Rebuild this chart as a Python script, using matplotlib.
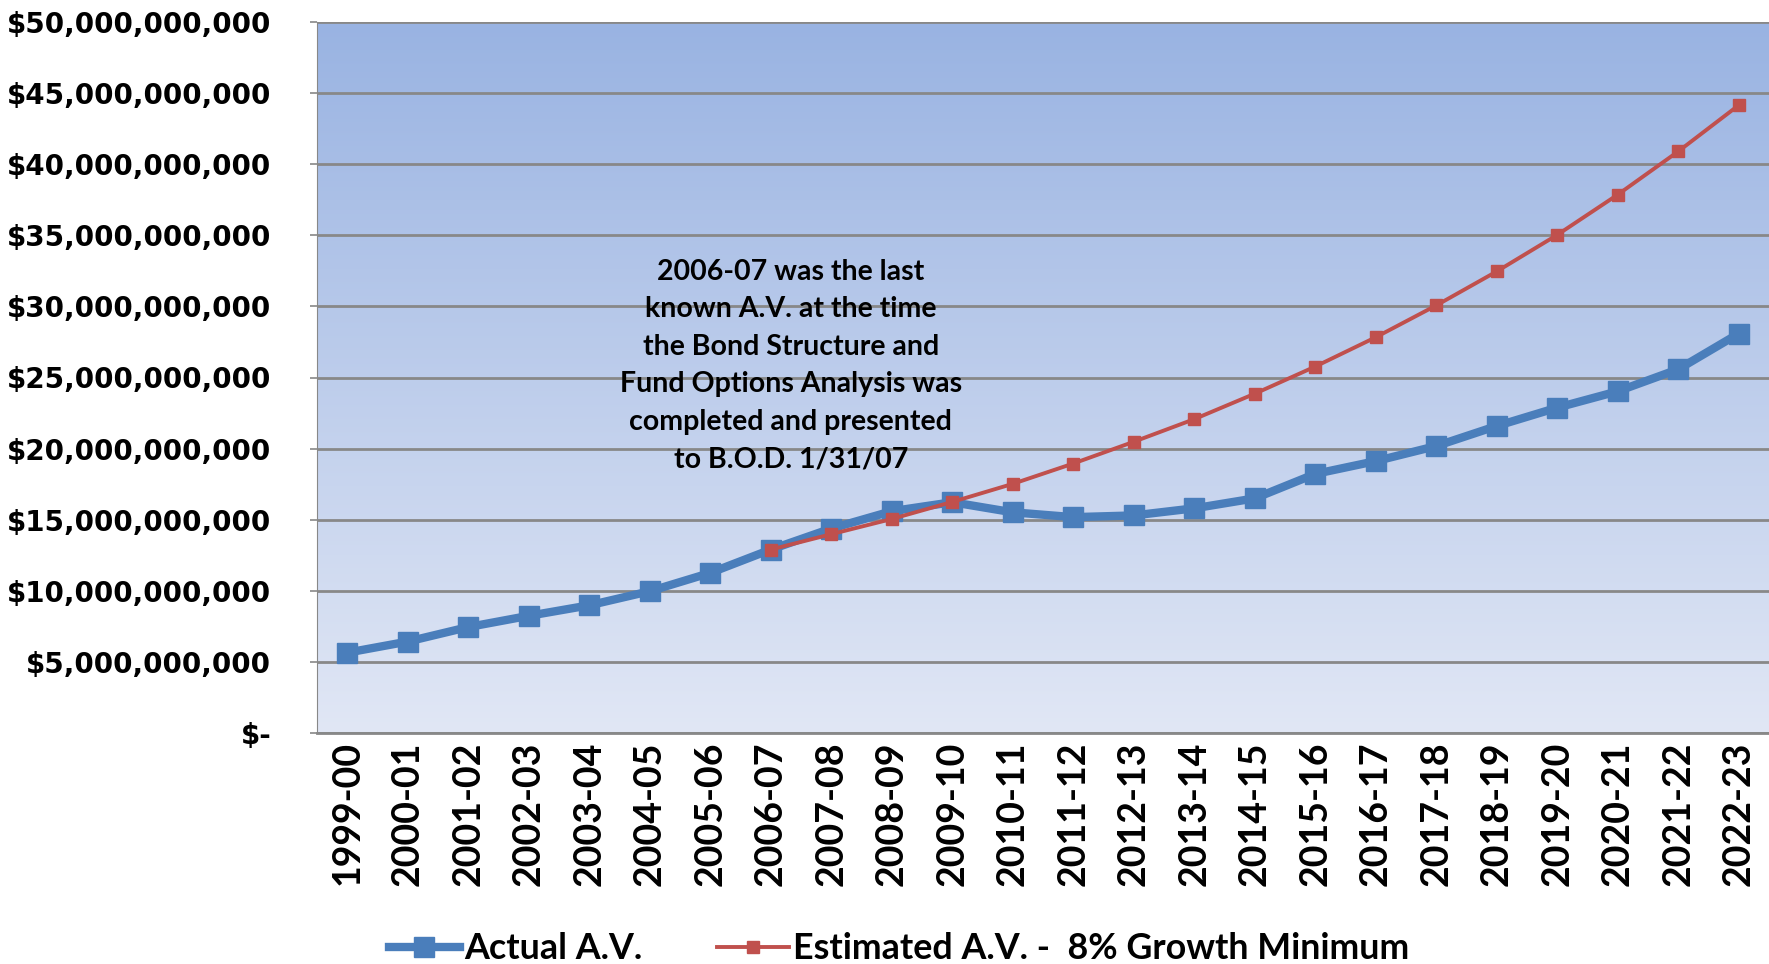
import matplotlib
matplotlib.use("Agg")
import matplotlib.pyplot as plt
import numpy as np
from matplotlib.ticker import FuncFormatter, MultipleLocator
from matplotlib.colors import LinearSegmentedColormap

years = ["1999-00", "2000-01", "2001-02", "2002-03", "2003-04", "2004-05", "2005-06",
         "2006-07", "2007-08", "2008-09", "2009-10", "2010-11", "2011-12", "2012-13",
         "2013-14", "2014-15", "2015-16", "2016-17", "2017-18", "2018-19", "2019-20",
         "2020-21", "2021-22", "2022-23"]

actual_av = [5.65, 6.43, 7.45, 8.24, 8.98, 9.97, 11.26, 12.9, 14.38, 15.6, 16.23,
             15.52, 15.18, 15.3, 15.8, 16.5, 18.22, 19.12, 20.18, 21.59, 22.88,
             24.03, 25.58, 28.09]
actual_av = [v * 1e9 for v in actual_av]

est_years = years[7:]
estimated_av = [12.9, 13.98, 15.05, 16.25, 17.52, 18.95, 20.48, 22.07, 23.86, 25.77,
                27.83, 30.07, 32.46, 35.03, 37.86, 40.9, 44.15]
estimated_av = [v * 1e9 for v in estimated_av]

annotation = ("2006-07 was the last\nknown A.V. at the time\nthe Bond Structure and\n"
              "Fund Options Analysis was\ncompleted and presented\nto B.O.D. 1/31/07")

blue = "#4A7EBB"
red = "#C0504D"
grid_c = "#888888"

fig = plt.figure(figsize=(17.69, 9.64), dpi=100)
ax = fig.add_axes([317/1769, 1-733/964, 1-317/1769, (733-22)/964])

x = np.arange(len(years))
x_est = np.arange(7, 7 + len(est_years))

ymax = 50e9
cmap = LinearSegmentedColormap.from_list("bg", ["#E1E7F5", "#99B3E2"])
grad = np.linspace(0, 1, 256).reshape(-1, 1)
ax.imshow(grad, cmap=cmap, origin="lower", aspect="auto",
          extent=[-0.5, len(years) - 0.5, 0, ymax], zorder=0)

ax.set_xlim(-0.5, len(years) - 0.5)
ax.set_ylim(0, ymax)
ax.yaxis.set_major_locator(MultipleLocator(5e9))
ax.grid(axis="y", color=grid_c, linewidth=2.0, zorder=1)
ax.set_axisbelow(False)

l1, = ax.plot(x, actual_av, color=blue, linewidth=6, marker="s", markersize=14,
              markerfacecolor=blue, markeredgecolor=blue, zorder=3, label="Actual A.V.")
l2, = ax.plot(x_est, estimated_av, color=red, linewidth=2.8, marker="s", markersize=8,
              markerfacecolor=red, markeredgecolor=red, zorder=4,
              label="Estimated A.V. -  8% Growth Minimum")

def fmt(v, pos):
    if v == 0:
        return "$-"
    return "${:,.0f}".format(v)

ax.yaxis.set_major_formatter(FuncFormatter(fmt))
ax.set_xticks(x)
ax.set_xticklabels(years, rotation=90, fontfamily="Lato", fontweight="bold", fontsize=27)
for lab in ax.get_yticklabels():
    lab.set_fontweight("bold")
    lab.set_fontfamily("DejaVu Sans")
ax.tick_params(axis="y", labelsize=20, length=5, color=grid_c, width=1.2, pad=28)
ax.tick_params(axis="x", length=0, pad=6)

for s in ["top", "right"]:
    ax.spines[s].set_visible(False)
ax.spines["bottom"].set_color(grid_c)
ax.spines["bottom"].set_linewidth(2)
ax.spines["left"].set_color(grid_c)
ax.spines["left"].set_linewidth(0.8)

ax.text(7.33, 25.85e9, annotation, ha="center", va="center", fontsize=20.5,
        fontfamily="Lato", fontweight="bold", linespacing=1.55, zorder=5)

leg = fig.legend(handles=[l1, l2], loc="center", bbox_to_anchor=(0.508, 0.016),
                 ncol=2, frameon=False, handlelength=2.0, columnspacing=2.1,
                 handletextpad=0.1, prop={"family": "Lato", "weight": "bold", "size": 25.8})

fig.savefig("out.png", dpi=100)
